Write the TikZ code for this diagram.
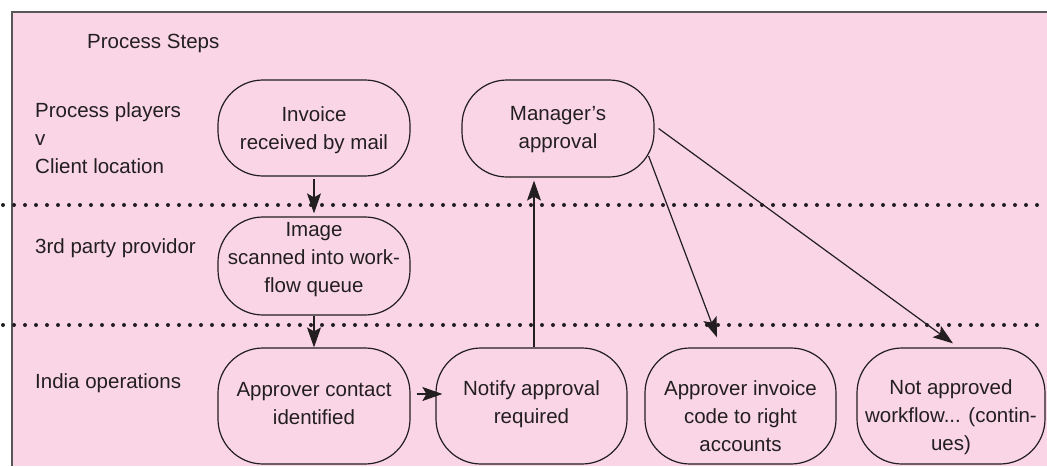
\documentclass[tikz,border=0pt]{standalone}
\usepackage{fontspec}
\setmainfont{Liberation Sans}
\usetikzlibrary{arrows.meta}
\definecolor{bgpink}{HTML}{F9D5E5}
\definecolor{ink}{HTML}{231F20}
\definecolor{framegray}{HTML}{5A5657}

\begin{document}
\begin{tikzpicture}[x=1pt,y=-1pt,
  every node/.style={font=\fontsize{20.5}{28}\selectfont, text=ink},
  stepbox/.style={draw=ink, line width=1.2pt, rounded corners=45pt,
    minimum width=192pt, inner sep=0pt},
  steptext/.style={align=center, inner sep=0pt},
  lane/.style={anchor=west, align=left, inner sep=0pt},
  flow/.style={draw=ink, line width=1.2pt,
    -{Stealth[length=20pt,width=14pt,inset=4pt]}},
  sep/.style={draw=ink, line width=4pt, line cap=round,
    dash pattern=on 0pt off 11pt}]

% canvas and frame
\useasboundingbox (0,0) rectangle (1047,466);
\fill[bgpink] (12,12) rectangle (1047,466);
\draw[framegray, line width=2pt] (12,466) -- (12,12) -- (1047,12);

% swim-lane separators
\draw[sep] (3,205) -- (1047,205);
\draw[sep] (3,325) -- (1047,325);

% lane titles
\node[lane] (title) at (87,43) {Process Steps};
\node[lane] (lane1) at (35,138) {Process players\\v\\Client location};
\node[lane] (lane2) at (35,248) {3rd party providor};
\node[lane] (lane3) at (35,383) {India operations};

% client location
\node[stepbox, minimum height=96pt] (inv) at (314,128) {};
\node[steptext] (inv-t) at (314,130) {Invoice\\received by mail};
\node[stepbox, minimum height=97pt] (mgr) at (558,128.5) {};
\node[steptext] (mgr-t) at (558,130) {Manager’s\\approval};

% third party
\node[stepbox, minimum height=98pt] (img) at (314,266) {};
\node[steptext] (img-t) at (314,260) {Image\\scanned into work-\\flow queue};

% India operations
\node[stepbox, minimum height=116pt] (contact) at (314,406) {};
\node[steptext] (contact-t) at (314,404) {Approver contact\\identified};
\node[stepbox, minimum height=116pt, minimum width=191pt] (notify) at (531.5,406) {};
\node[steptext] (notify-t) at (531.5,404) {Notify approval\\required};
\node[stepbox, minimum height=116pt, minimum width=191pt] (apinv) at (740.5,406) {};
\node[steptext] (apinv-t) at (740.5,416.5) {Approver invoice\\code to right\\accounts};
\node[stepbox, minimum height=116pt, minimum width=188pt] (notapp) at (951,406) {};
\node[steptext] (notapp-t) at (951,417) {Not approved\\workflow... (contin-\\ues)};

% connectors
\draw[flow, shorten <=2pt, shorten >=3pt] (inv.south) -- (img.north);
\draw[flow] (img.south) -- (contact.north);
\draw[flow, shorten <=6pt, shorten >=-7pt]
  ([yshift=12pt]contact.east) -- ([yshift=12pt]notify.west);
\draw[flow, shorten >=3pt] ([xshift=2.5pt]notify.north) -- ([xshift=-24pt]mgr.south);
\draw[flow] ([xshift=-6pt,yshift=-27.5pt]mgr.east) -- ([xshift=-23.5pt,yshift=10pt]apinv.north);
\draw[flow] ([xshift=4pt]mgr.east) -- ([xshift=2pt,yshift=4pt]notapp.north);
\end{tikzpicture}
\end{document}
